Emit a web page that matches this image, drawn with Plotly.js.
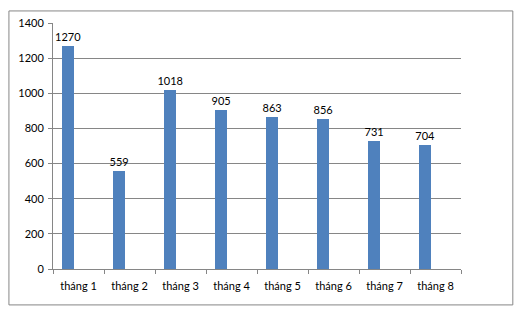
<!DOCTYPE html>
<html>
<head>
<meta charset="utf-8">
<script src="https://cdn.plot.ly/plotly-3.0.1.min.js"></script>
<style>html,body{margin:0;padding:0;background:#fff;}#chart{width:526px;height:315px;}</style>
</head>
<body>
<div id="chart"></div>
<script>
const categories = ["tháng 1", "tháng 2", "tháng 3", "tháng 4", "tháng 5", "tháng 6", "tháng 7", "tháng 8"];
const values = [1270, 559, 1018, 905, 863, 856, 731, 704];
const yTicks = [0, 200, 400, 600, 800, 1000, 1200, 1400];

const trace = {
  type: 'bar',
  x: categories,
  y: values,
  text: values.map(String),
  textposition: 'outside',
  constraintext: 'none',
  cliponaxis: false,
  textfont: {family: 'Lato, "Open Sans", sans-serif', size: 11, color: '#000000'},
  outsidetextfont: {family: 'Lato, "Open Sans", sans-serif', size: 11, color: '#000000'},
  marker: {color: '#4F81BD', line: {width: 0}},
  width: 0.235,
  offset: -0.32,
  hoverinfo: 'none'
};

const layout = {
  width: 526, height: 315,
  margin: {l: 53, r: 65, t: 23, b: 46, pad: 0},
  paper_bgcolor: '#fff', plot_bgcolor: '#fff',
  showlegend: false,
  font: {family: 'Lato, "Open Sans", sans-serif', size: 11, color: '#000'},
  xaxis: {
    type: 'category',
    showgrid: false,
    showline: true, linecolor: '#868686', linewidth: 1,
    ticks: 'outside', tickson: 'boundaries', ticklen: 4, tickcolor: '#868686',
    ticklabelstandoff: 7,
    tickfont: {size: 11, color: '#000'},
    zeroline: false
  },
  yaxis: {
    range: [0, 1400],
    tickvals: yTicks,
    ticktext: yTicks.map(String),
    showgrid: true, gridcolor: '#868686', gridwidth: 1,
    showline: true, linecolor: '#868686', linewidth: 1,
    ticks: 'outside', ticklen: 4, tickcolor: '#868686',
    ticklabelstandoff: 2,
    tickfont: {size: 11, color: '#000'},
    zeroline: false
  },
  bargap: 0,
  shapes: [{
    type: 'rect', xref: 'paper', yref: 'paper',
    x0: -0.108, x1: 1.127, y0: -0.146, y1: 1.049,
    line: {color: '#868686', width: 1}, fillcolor: 'rgba(0,0,0,0)'
  }]
};

Plotly.newPlot('chart', [trace], layout, {displayModeBar: false, staticPlot: true});
</script>
</body>
</html>
